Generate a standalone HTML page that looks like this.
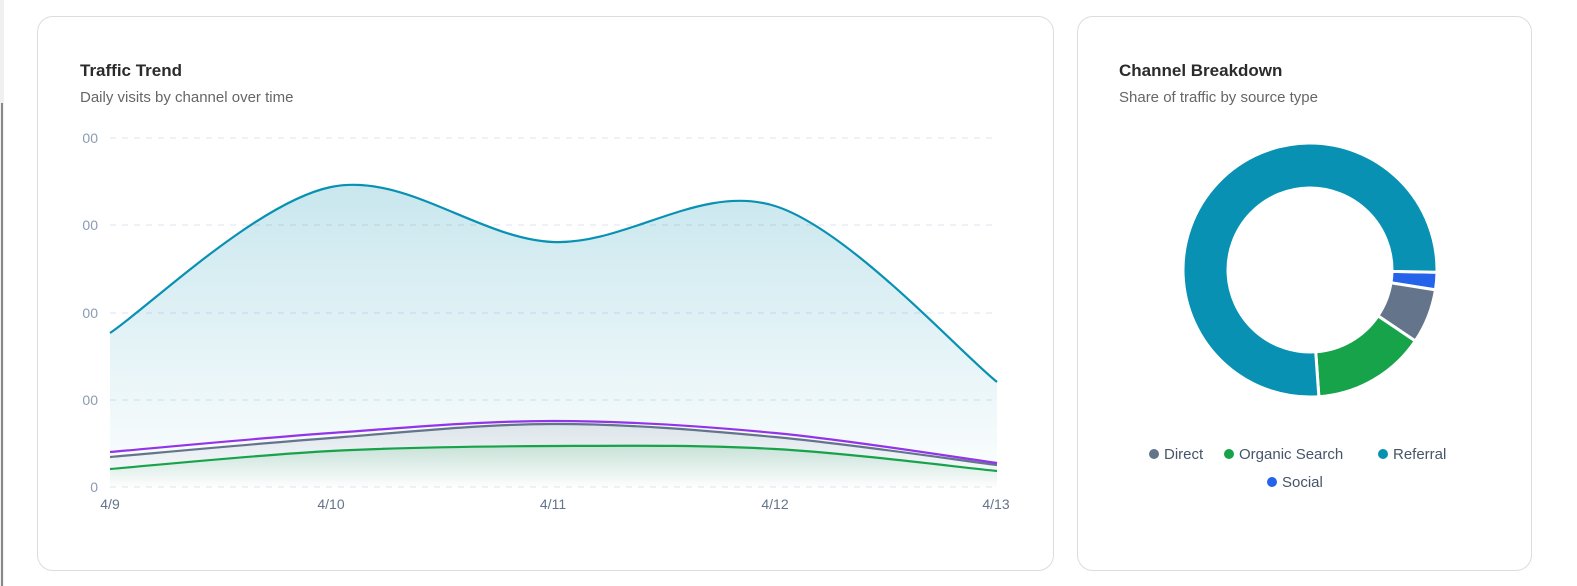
<!DOCTYPE html>
<html><head><meta charset="utf-8"><style>
body{margin:0;width:1577px;height:586px;background:#fff;font-family:"Liberation Sans",sans-serif;position:relative;overflow:hidden}
.card{position:absolute;background:#fff;border:1px solid #dcdcdc;border-radius:16px;box-sizing:border-box}
.t{position:absolute;font-weight:bold;font-size:17px;color:#2b2b2b}
.s{position:absolute;font-size:15px;color:#666}
</style></head><body>
<div style="position:absolute;left:0;top:0;width:4px;height:586px;background:#f0f0f0"></div>
<div style="position:absolute;left:1px;top:103px;width:2px;height:483px;background:#888"></div>
<div class="card" style="left:37px;top:16px;width:1017px;height:555px"></div>
<div class="card" style="left:1077px;top:16px;width:455px;height:555px"></div>
<div class="t" style="left:80px;top:61px">Traffic Trend</div>
<div class="s" style="left:80px;top:89px">Daily visits by channel over time</div>
<div class="t" style="left:1119px;top:61px">Channel Breakdown</div>
<div class="s" style="left:1119px;top:89px">Share of traffic by source type</div>
<svg id="sv" width="1577" height="586" style="position:absolute;left:0;top:0" font-family="Liberation Sans, sans-serif">
<defs>
<linearGradient id="gr" x1="0" y1="0" x2="0" y2="1"><stop offset="0" stop-color="#0891b2" stop-opacity="0.22"/><stop offset="1" stop-color="#0891b2" stop-opacity="0.01"/></linearGradient>
<linearGradient id="gg" x1="0" y1="0" x2="0" y2="1"><stop offset="0" stop-color="#16a34a" stop-opacity="0.15"/><stop offset="1" stop-color="#16a34a" stop-opacity="0"/></linearGradient>
<linearGradient id="gs" x1="0" y1="0" x2="0" y2="1"><stop offset="0" stop-color="#64748b" stop-opacity="0.15"/><stop offset="1" stop-color="#64748b" stop-opacity="0"/></linearGradient>
</defs>
<g stroke="#dde3ec" stroke-dasharray="6 6" stroke-width="1">
<line x1="110" x2="998" y1="138" y2="138"/><line x1="110" x2="998" y1="225" y2="225"/><line x1="110" x2="998" y1="313" y2="313"/><line x1="110" x2="998" y1="400" y2="400"/><line x1="110" x2="998" y1="487" y2="487"/>
</g>
<g fill="#8b9bb4" font-size="14" text-anchor="end">
<text x="98" y="143">00</text><text x="98" y="230">00</text><text x="98" y="318">00</text><text x="98" y="405">00</text><text x="98" y="492">0</text>
</g>
<g fill="#64748b" font-size="14" text-anchor="middle">
<text x="110" y="509">4/9</text><text x="331" y="509">4/10</text><text x="553" y="509">4/11</text><text x="775" y="509">4/12</text><text x="996" y="509">4/13</text>
</g>
<g id="lines"></g>
<g id="pie"></g>
<g font-size="15" fill="#475569">
<circle cx="1154" cy="454" r="5" fill="#64748b"/><text x="1164" y="459">Direct</text>
<circle cx="1229" cy="454" r="5" fill="#16a34a"/><text x="1239" y="459">Organic Search</text>
<circle cx="1383" cy="454" r="5" fill="#0891b2"/><text x="1393" y="459">Referral</text>
<circle cx="1272" cy="482" r="5" fill="#2563eb"/><text x="1282" y="487">Social</text>
</g>
</svg>
<script>
var xs=[110,331,553,775,997];
function path(ys){var p=xs.map(function(x,i){return[x,ys[i]]});var d="M"+p[0][0]+","+p[0][1];
for(var i=0;i<p.length-1;i++){var a=p[Math.max(i-1,0)],b=p[i],c=p[i+1],e=p[Math.min(i+2,p.length-1)];
d+=" C"+(b[0]+(c[0]-a[0])/6)+","+(b[1]+(c[1]-a[1])/6)+" "+(c[0]-(e[0]-b[0])/6)+","+(c[1]-(e[1]-b[1])/6)+" "+c[0]+","+c[1];}return d;}
var S=[[[333,187,242,206,382],"#0891b2","url(#gr)"],[[457,438,424,437,465],"#64748b","url(#gs)"],[[469,451,446,449,471],"#16a34a","url(#gg)"],[[452,433,421,433,463],"#9333ea",null]];
var h="";S.forEach(function(s){var d=path(s[0]);if(s[2])h+='<path d="'+d+' L997,487 L110,487Z" fill="'+s[2]+'"/>';});
S.forEach(function(s){h+='<path d="'+path(s[0])+'" fill="none" stroke="'+s[1]+'" stroke-width="2.2"/>';});
document.getElementById("lines").innerHTML=h;
var cx=1310,cy=270,R=127,r=82;
function arc(a0,a1,col){a0*=Math.PI/180;a1*=Math.PI/180;var l=(a1-a0)>Math.PI?1:0;
function pt(rad,a){return(cx+rad*Math.cos(a))+","+(cy+rad*Math.sin(a));}
return '<path d="M'+pt(R,a0)+" A"+R+","+R+" 0 "+l+" 1 "+pt(R,a1)+" L"+pt(r,a1)+" A"+r+","+r+" 0 "+l+" 0 "+pt(r,a0)+'Z" fill="'+col+'" stroke="#fff" stroke-width="3"/>';}
document.getElementById("pie").innerHTML=arc(1,9,"#2563eb")+arc(9,34,"#64748b")+arc(34,86,"#16a34a")+arc(86,361,"#0891b2");
</script>
</body></html>
